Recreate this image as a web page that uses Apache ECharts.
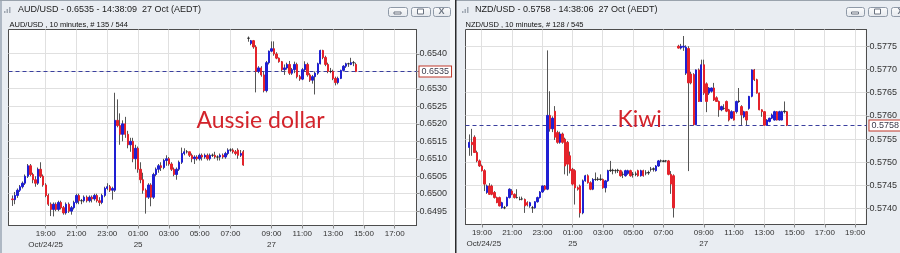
<!DOCTYPE html>
<html><head><meta charset="utf-8">
<script src="https://cdn.jsdelivr.net/npm/echarts@6/dist/echarts.min.js"></script>
<style>html,body{margin:0;padding:0;background:#e9edf2;}#c{width:900px;height:253px;}</style>
</head><body><div id="c"></div>
<script>
// ---------------- DATA ----------------
// trading sessions (10-minute bars), weekend gap removed
const audSessions = [['2025-10-24 16:40','2025-10-25 07:50'],['2025-10-27 07:20','2025-10-27 18:20']];
const nzdSessions = [['2025-10-24 18:00','2025-10-25 07:50'],['2025-10-27 07:20','2025-10-27 19:40']];

// x tick labels
const audTimeTicks = ['24 19:00','24 21:00','24 23:00','25 01:00','25 03:00','25 05:00','25 07:00','27 09:00','27 11:00','27 13:00','27 15:00','27 17:00'];
const nzdTimeTicks = ['24 19:00','24 21:00','24 23:00','25 01:00','25 03:00','25 05:00','25 07:00','27 09:00','27 11:00','27 13:00','27 15:00','27 17:00','27 19:00'];
const dateTicks = {'24 19:00':'Oct/24/25','25 01:00':'25','27 09:00':'27'};

// y tick labels
const audPriceTicks = [0.6540,0.6535,0.6530,0.6525,0.6520,0.6515,0.6510,0.6505,0.6500,0.6495];
const nzdPriceTicks = [0.5775,0.5770,0.5765,0.5760,0.5755,0.5750,0.5745,0.5740];
const audRange = [0.64909, 0.65470];
const nzdRange = [0.57366, 0.57786];
const audLast = 0.6535;
const nzdLast = 0.5758;

// candles: [open, close, low, high]
const audFriStart = '24 16:50';
const audFri = [
[0.64985,0.64983,0.64965,0.64995],[0.64983,0.64995,0.64970,0.65005],[0.64995,0.65010,0.64988,0.65015],[0.65010,0.65020,0.65005,0.65025],
[0.65020,0.65030,0.65015,0.65035],[0.65030,0.65050,0.65025,0.65055],[0.65050,0.65080,0.65045,0.65085],[0.65080,0.65055,0.65050,0.65085],
[0.65055,0.65040,0.65030,0.65060],[0.65040,0.65030,0.65020,0.65050],[0.65030,0.65070,0.65025,0.65075],[0.65070,0.65050,0.65045,0.65090],
[0.65050,0.65025,0.65020,0.65055],[0.65025,0.64995,0.64990,0.65030],[0.64995,0.64970,0.64965,0.65000],[0.64970,0.64955,0.64936,0.64975],
[0.64955,0.64970,0.64935,0.64975],[0.64970,0.64955,0.64950,0.64975],[0.64955,0.64975,0.64950,0.64980],[0.64975,0.64960,0.64955,0.64980],
[0.64960,0.64945,0.64940,0.64965],[0.64945,0.64970,0.64940,0.64975],[0.64970,0.64950,0.64945,0.64975],[0.64950,0.64960,0.64940,0.64965],
[0.64960,0.64975,0.64955,0.64980],[0.64975,0.64995,0.64970,0.65000],[0.64995,0.64980,0.64970,0.65000],[0.64980,0.64980,0.64970,0.64985],
[0.64980,0.64990,0.64975,0.64995],[0.64990,0.64980,0.64975,0.64995],[0.64980,0.64990,0.64975,0.64995],[0.64990,0.64985,0.64975,0.64995],
[0.64985,0.64995,0.64980,0.65000],[0.64995,0.64980,0.64975,0.65000],[0.64980,0.64975,0.64965,0.64990],[0.64975,0.64995,0.64970,0.65000],
[0.64995,0.65015,0.64990,0.65020],[0.65015,0.65020,0.65010,0.65030],[0.65020,0.65010,0.65005,0.65025],[0.65010,0.65015,0.64983,0.65020],
[0.65010,0.65210,0.65005,0.65289],[0.65210,0.65195,0.65190,0.65270],[0.65195,0.65170,0.65140,0.65230],[0.65170,0.65200,0.65150,0.65210],
[0.65200,0.65170,0.65160,0.65220],[0.65170,0.65140,0.65130,0.65180],[0.65140,0.65150,0.65120,0.65160],[0.65150,0.65100,0.65090,0.65160],
[0.65100,0.65130,0.65070,0.65140],[0.65130,0.65070,0.65060,0.65135],[0.65070,0.65040,0.65030,0.65090],[0.65040,0.65010,0.65000,0.65060],
[0.65010,0.64990,0.64943,0.65015],[0.64990,0.65025,0.64985,0.65030],[0.65025,0.64990,0.64964,0.65030],[0.64990,0.65055,0.64985,0.65060],
[0.65055,0.65070,0.65050,0.65075],[0.65070,0.65080,0.65060,0.65085],[0.65080,0.65075,0.65065,0.65090],[0.65075,0.65095,0.65070,0.65100],
[0.65095,0.65100,0.65080,0.65110],[0.65100,0.65085,0.65080,0.65105],[0.65085,0.65070,0.65065,0.65090],[0.65070,0.65055,0.65050,0.65075],
[0.65055,0.65070,0.65040,0.65075],[0.65070,0.65090,0.65065,0.65095],[0.65090,0.65115,0.65085,0.65132],[0.65115,0.65120,0.65110,0.65130],
[0.65120,0.65120,0.65115,0.65125],[0.65120,0.65110,0.65105,0.65120],[0.65110,0.65100,0.65090,0.65115],[0.65100,0.65105,0.65085,0.65110],
[0.65105,0.65100,0.65095,0.65110],[0.65100,0.65110,0.65095,0.65115],[0.65110,0.65105,0.65095,0.65115],[0.65105,0.65110,0.65100,0.65115],
[0.65110,0.65100,0.65095,0.65115],[0.65100,0.65110,0.65095,0.65115],[0.65110,0.65110,0.65105,0.65115],[0.65110,0.65105,0.65100,0.65120],
[0.65105,0.65105,0.65095,0.65110],[0.65105,0.65110,0.65095,0.65115],[0.65110,0.65105,0.65100,0.65115],[0.65105,0.65115,0.65100,0.65120],
[0.65115,0.65125,0.65110,0.65130],[0.65125,0.65125,0.65120,0.65130],[0.65125,0.65120,0.65115,0.65130],[0.65120,0.65115,0.65110,0.65125],
[0.65125,0.65110,0.65100,0.65130],[0.65110,0.65115,0.65105,0.65125],[0.65120,0.65082,0.65080,0.65125]
];
const audMonStart = '27 07:30';
const audMon = [
[0.65445,0.65445,0.65435,0.65450],[0.65430,0.65438,0.65425,0.65440],[0.65438,0.65420,0.65415,0.65440],[0.65420,0.65350,0.65290,0.65425],
[0.65350,0.65360,0.65345,0.65365],[0.65360,0.65340,0.65335,0.65365],[0.65340,0.65295,0.65290,0.65350],[0.65295,0.65375,0.65290,0.65380],
[0.65375,0.65408,0.65370,0.65410],[0.65408,0.65415,0.65405,0.65436],[0.65415,0.65400,0.65395,0.65436],[0.65400,0.65388,0.65385,0.65405],
[0.65388,0.65378,0.65375,0.65390],[0.65378,0.65355,0.65350,0.65380],[0.65355,0.65360,0.65340,0.65370],[0.65360,0.65370,0.65355,0.65375],
[0.65370,0.65345,0.65340,0.65380],[0.65345,0.65355,0.65340,0.65360],[0.65355,0.65370,0.65345,0.65378],[0.65370,0.65335,0.65330,0.65375],
[0.65335,0.65328,0.65323,0.65340],[0.65328,0.65355,0.65325,0.65360],[0.65355,0.65370,0.65350,0.65379],[0.65370,0.65340,0.65335,0.65375],
[0.65340,0.65325,0.65320,0.65345],[0.65325,0.65335,0.65315,0.65340],[0.65335,0.65345,0.65284,0.65350],[0.65345,0.65372,0.65340,0.65375],
[0.65372,0.65410,0.65370,0.65412],[0.65410,0.65390,0.65385,0.65412],[0.65390,0.65370,0.65365,0.65395],[0.65370,0.65350,0.65345,0.65375],
[0.65350,0.65350,0.65345,0.65360],[0.65350,0.65330,0.65325,0.65355],[0.65330,0.65318,0.65310,0.65335],[0.65318,0.65330,0.65313,0.65335],
[0.65330,0.65353,0.65328,0.65355],[0.65353,0.65365,0.65350,0.65368],[0.65365,0.65372,0.65360,0.65375],[0.65372,0.65372,0.65363,0.65375],
[0.65370,0.65375,0.65368,0.65389],[0.65375,0.65375,0.65365,0.65380],[0.65370,0.65350,0.65348,0.65375]
];
const nzdFriStart = '24 18:10';
const nzdFri = [
[0.57532,0.57543,0.57514,0.57560],[0.57543,0.57538,0.57514,0.57572],[0.57554,0.57521,0.57520,0.57558],[0.57521,0.57503,0.57500,0.57525],
[0.57503,0.57492,0.57490,0.57506],[0.57492,0.57482,0.57480,0.57495],[0.57482,0.57453,0.57438,0.57485],[0.57435,0.57449,0.57432,0.57452],
[0.57449,0.57431,0.57430,0.57455],[0.57449,0.57431,0.57429,0.57452],[0.57435,0.57424,0.57422,0.57438],[0.57424,0.57413,0.57412,0.57426],
[0.57424,0.57406,0.57405,0.57426],[0.57402,0.57413,0.57400,0.57415],[0.57402,0.57402,0.57399,0.57406],[0.57406,0.57424,0.57404,0.57426],
[0.57424,0.57442,0.57422,0.57444],[0.57438,0.57431,0.57429,0.57442],[0.57431,0.57424,0.57422,0.57433],[0.57424,0.57424,0.57422,0.57442],
[0.57420,0.57420,0.57418,0.57426],[0.57421,0.57421,0.57418,0.57426],[0.57420,0.57406,0.57391,0.57422],[0.57413,0.57408,0.57405,0.57416],
[0.57406,0.57413,0.57402,0.57415],[0.57402,0.57402,0.57391,0.57406],[0.57402,0.57415,0.57400,0.57416],[0.57415,0.57424,0.57413,0.57426],
[0.57424,0.57436,0.57422,0.57438],[0.57436,0.57449,0.57434,0.57450],[0.57449,0.57442,0.57439,0.57451],[0.57442,0.57601,0.57440,0.57741],
[0.57601,0.57572,0.57566,0.57653],[0.57572,0.57595,0.57565,0.57599],[0.57610,0.57554,0.57548,0.57621],[0.57564,0.57543,0.57540,0.57568],
[0.57543,0.57561,0.57540,0.57566],[0.57561,0.57543,0.57540,0.57564],[0.57550,0.57492,0.57474,0.57553],[0.57543,0.57496,0.57471,0.57546],
[0.57514,0.57482,0.57476,0.57523],[0.57485,0.57453,0.57450,0.57488],[0.57482,0.57445,0.57409,0.57485],[0.57445,0.57442,0.57439,0.57448],
[0.57449,0.57391,0.57381,0.57452],[0.57391,0.57460,0.57388,0.57463],[0.57460,0.57471,0.57458,0.57473],[0.57471,0.57456,0.57454,0.57474],
[0.57456,0.57442,0.57440,0.57459],[0.57442,0.57463,0.57440,0.57466],[0.57463,0.57463,0.57460,0.57478],[0.57463,0.57464,0.57460,0.57468],
[0.57464,0.57463,0.57460,0.57474],[0.57463,0.57445,0.57443,0.57465],[0.57445,0.57460,0.57435,0.57462],[0.57460,0.57482,0.57458,0.57484],
[0.57482,0.57483,0.57479,0.57503],[0.57483,0.57482,0.57474,0.57486],[0.57482,0.57482,0.57476,0.57485],[0.57482,0.57483,0.57477,0.57486],
[0.57482,0.57471,0.57469,0.57484],[0.57474,0.57474,0.57466,0.57480],[0.57471,0.57482,0.57469,0.57484],[0.57476,0.57482,0.57473,0.57484],
[0.57482,0.57471,0.57469,0.57484],[0.57474,0.57474,0.57467,0.57479],[0.57474,0.57475,0.57470,0.57480],[0.57482,0.57471,0.57469,0.57484],
[0.57471,0.57482,0.57469,0.57484],[0.57482,0.57471,0.57469,0.57484],[0.57477,0.57477,0.57472,0.57483],[0.57477,0.57478,0.57473,0.57482],
[0.57485,0.57485,0.57480,0.57490],[0.57485,0.57486,0.57480,0.57489],[0.57482,0.57492,0.57480,0.57494],[0.57492,0.57503,0.57490,0.57505],
[0.57503,0.57503,0.57500,0.57506],[0.57503,0.57502,0.57500,0.57505],[0.57503,0.57503,0.57500,0.57505],[0.57503,0.57474,0.57472,0.57505],
[0.57474,0.57453,0.57432,0.57481],[0.57471,0.57402,0.57381,0.57474]
];
const nzdMonStart = '27 07:20';
const nzdMon = [
[0.57750,0.57746,0.57745,0.57753],[0.57746,0.57750,0.57743,0.57755],[0.57748,0.57750,0.57740,0.57772],[0.57692,0.57748,0.57688,0.57752],
[0.57745,0.57671,0.57481,0.57750],[0.57690,0.57671,0.57668,0.57695],[0.57689,0.57581,0.57579,0.57692],[0.57581,0.57699,0.57580,0.57700],
[0.57699,0.57631,0.57630,0.57702],[0.57631,0.57710,0.57630,0.57721],[0.57710,0.57649,0.57645,0.57721],[0.57669,0.57631,0.57608,0.57672],
[0.57649,0.57660,0.57645,0.57662],[0.57653,0.57660,0.57650,0.57661],[0.57660,0.57634,0.57632,0.57671],[0.57639,0.57631,0.57630,0.57642],
[0.57631,0.57613,0.57598,0.57633],[0.57613,0.57620,0.57610,0.57622],[0.57616,0.57616,0.57613,0.57625],[0.57631,0.57610,0.57608,0.57633],
[0.57613,0.57591,0.57588,0.57615],[0.57595,0.57609,0.57593,0.57612],[0.57609,0.57591,0.57590,0.57610],[0.57609,0.57631,0.57605,0.57633],
[0.57631,0.57632,0.57628,0.57660],[0.57620,0.57602,0.57580,0.57623],[0.57598,0.57609,0.57595,0.57611],[0.57609,0.57591,0.57580,0.57610],
[0.57616,0.57642,0.57613,0.57643],[0.57642,0.57699,0.57640,0.57700],[0.57699,0.57678,0.57675,0.57701],[0.57678,0.57649,0.57648,0.57680],
[0.57649,0.57613,0.57612,0.57650],[0.57613,0.57609,0.57598,0.57614],[0.57609,0.57580,0.57579,0.57610],[0.57580,0.57591,0.57579,0.57593],
[0.57588,0.57595,0.57586,0.57596],[0.57595,0.57602,0.57593,0.57605],[0.57591,0.57609,0.57590,0.57611],[0.57609,0.57591,0.57590,0.57610],
[0.57591,0.57609,0.57590,0.57611],[0.57591,0.57609,0.57590,0.57611],[0.57609,0.57610,0.57605,0.57631],[0.57609,0.57580,0.57578,0.57610]
];

// ---------------- BUILD ----------------
const FONT = 'Liberation Sans';
const UP = '#1f1fd2', DOWN = '#e4232b', WICK = '#555555', DOJI = '#2a2a2a';
const GRIDLINE = '#e0e0e0', FRAME = '#4d4d4d';

function buildCategories(sessions){
  const out = [];
  for (const [a,b] of sessions){
    let t = Date.parse(a.replace(' ','T')+':00Z');
    const end = Date.parse(b.replace(' ','T')+':00Z');
    for (; t <= end; t += 600000){
      const d = new Date(t);
      out.push(String(d.getUTCDate()).padStart(2,'0')+' '+String(d.getUTCHours()).padStart(2,'0')+':'+String(d.getUTCMinutes()).padStart(2,'0'));
    }
  }
  return out;
}
function place(cats, segments){
  const out = cats.map(()=>null);
  for (const [key, rows] of segments){
    const s = cats.indexOf(key);
    rows.forEach((r,k)=>{ out[s+k] = r; });
  }
  return out;
}
const EMPTY = ['-','-','-','-'];
const crisp = v => Math.round(v - 0.5) + 0.5;

function panel(gi, cats, placed, timeTicks, priceTicks, range, last, lastLabel, dateOutside){
  const tickSet = new Set(timeTicks);
  const xAxis = {
    type:'category', gridIndex:gi, data:cats, boundaryGap:true,
    axisLine:{show:true, lineStyle:{color:FRAME, width:1}},
    axisTick:{show:true, alignWithLabel:true, interval:(i,v)=>tickSet.has(v), length:3, lineStyle:{color:'#888'}},
    axisLabel:{show:true, interval:(i,v)=>tickSet.has(v), margin:3, hideOverlap:false,
      formatter:(v)=>{
        const t = '{t|'+v.slice(3)+'}';
        const d = dateTicks[v];
        if (!d || (dateOutside && v===timeTicks[0])) return t;
        return t+'\n{d|'+d+'}';
      },
      rich:{
        t:{fontFamily:FONT, fontSize:8, color:'#333', lineHeight:11},
        d:{fontFamily:FONT, fontSize:8, color:'#333', lineHeight:11}
      }},
    splitLine:{show:false}
  };
  const yAxis = {
    type:'value', gridIndex:gi, position:'right', min:range[0], max:range[1], scale:true,
    axisLine:{show:true, lineStyle:{color:FRAME, width:1}},
    axisTick:{show:true, length:3, customValues:priceTicks, lineStyle:{color:'#888'}},
    axisLabel:{show:true, customValues:priceTicks, margin:3, fontFamily:FONT, fontSize:9, color:'#333',
      formatter:(v)=>Number(v).toFixed(4)},
    splitLine:{show:false}
  };
  const wickData = placed.map(r => r ? r : EMPTY);
  const bodyData = placed.map(r => {
    if (!r) return EMPTY;
    const lo = Math.min(r[0],r[1]), hi = Math.max(r[0],r[1]);
    const item = {value:[r[0], r[1], lo, hi]};
    if (Math.abs(r[0]-r[1]) < 0.000012) item.itemStyle = {color:DOJI, color0:DOJI, borderColor:DOJI, borderColor0:DOJI};
    return item;
  });
  const series = [
    // horizontal grid lines at price ticks
    {type:'custom', xAxisIndex:gi, yAxisIndex:gi, silent:true, z:1, clip:false,
      data:priceTicks.map(v=>[0, v]), encode:{x:0, y:1},
      renderItem:(params, api)=>{
        const cs = params.coordSys; const y = crisp(api.coord([0, api.value(1)])[1]);
        return {type:'line', shape:{x1:cs.x, y1:y, x2:cs.x+cs.width, y2:y}, style:{stroke:GRIDLINE, lineWidth:1}};
      }},
    // vertical grid lines at time ticks
    {type:'custom', xAxisIndex:gi, yAxisIndex:gi, silent:true, z:1, clip:false,
      data:timeTicks.map(t=>[cats.indexOf(t), range[0]]), encode:{x:0, y:1},
      renderItem:(params, api)=>{
        const cs = params.coordSys; const x = crisp(api.coord([api.value(0), api.value(1)])[0]);
        return {type:'line', shape:{x1:x, y1:cs.y, x2:x, y2:cs.y+cs.height}, style:{stroke:GRIDLINE, lineWidth:1}};
      }},
    // current price: dashed line + boxed label
    {type:'custom', xAxisIndex:gi, yAxisIndex:gi, silent:true, z:2, clip:false,
      data:[[0, last]], encode:{x:0, y:1},
      renderItem:(params, api)=>{
        const cs = params.coordSys; const y = crisp(api.coord([0, api.value(1)])[1]);
        return {type:'group', children:[
          {type:'line', shape:{x1:cs.x, y1:y, x2:cs.x+cs.width, y2:y}, style:{stroke:'#3a3f9e', lineWidth:1, lineDash:[4,3]}},
          {type:'text', x:cs.x+cs.width+3, y:y, style:{text:lastLabel, font:'9px '+FONT, fill:'#3a3a4a',
            verticalAlign:'middle', backgroundColor:'#fff', borderColor:'#c0392b', borderWidth:1, padding:[1,2,0,2]}}
        ]};
      }},
    {type:'candlestick', xAxisIndex:gi, yAxisIndex:gi, data:wickData, barWidth:0.5, silent:true, z:3,
      itemStyle:{color:WICK, color0:WICK, borderColor:WICK, borderColor0:WICK, borderWidth:1}},
    {type:'candlestick', xAxisIndex:gi, yAxisIndex:gi, data:bodyData, barWidth:1.9, silent:true, z:4,
      itemStyle:{color:UP, color0:DOWN, borderColor:UP, borderColor0:DOWN, borderWidth:1}}
  ];
  return {xAxis, yAxis, series};
}

const audCats = buildCategories(audSessions);
const nzdCats = buildCategories(nzdSessions);
const A = panel(0, audCats, place(audCats, [[audFriStart,audFri],[audMonStart,audMon]]), audTimeTicks, audPriceTicks, audRange, audLast, audLast.toFixed(4), false);
const N = panel(1, nzdCats, place(nzdCats, [[nzdFriStart,nzdFri],[nzdMonStart,nzdMon]]), nzdTimeTicks, nzdPriceTicks, nzdRange, nzdLast, nzdLast.toFixed(4), true);

function button(x, y, w, h, icon){
  const els = [{type:'rect', shape:{x:x+0.5, y:y+0.5, width:w, height:h, r:2}, silent:true,
    style:{fill:new echarts.graphic.LinearGradient(0,0,0,1,[{offset:0,color:'#fdfdfd'},{offset:1,color:'#e3e7ec'}]), stroke:'#8e99a7', lineWidth:1}}];
  const cx = x + w/2, cy = y + h/2;
  if (icon==='min') els.push({type:'rect', shape:{x:cx-3.5, y:cy+0.5, width:7, height:2}, style:{fill:'#fff', stroke:'#6a7380', lineWidth:1}, silent:true});
  if (icon==='max') els.push({type:'rect', shape:{x:cx-3, y:cy-2.5, width:6, height:5}, style:{fill:'#fff', stroke:'#6a7380', lineWidth:1}, silent:true});
  if (icon==='close') els.push({type:'text', style:{text:'X', x:cx, y:cy+0.5, align:'center', verticalAlign:'middle', font:'bold 9px '+FONT, fill:'#6a7380'}, silent:true});
  return els;
}
function icon(x, y){
  return [0,1,2].map(k=>({type:'rect', shape:{x:x+k*2.5, y:y+6-2*k, width:1.5, height:2+2*k}, style:{fill:'#a0a8b2'}, silent:true}));
}

const graphics = [].concat(
  [{type:'rect', shape:{x:0, y:0, width:2, height:253}, style:{fill:'#aeb8c4'}, silent:true},
   {type:'rect', shape:{x:0, y:0, width:900, height:1}, style:{fill:'#9aa3ad'}, silent:true},
   {type:'rect', shape:{x:450, y:0, width:5, height:253}, style:{fill:'#f4f6f8'}, silent:true},
   {type:'rect', shape:{x:455, y:0, width:1.5, height:253}, style:{fill:'#2b2b2b'}, silent:true}],
  icon(4, 5), icon(462, 5),
  [{type:'text', silent:true, style:{text:'AUD/USD - 0.6535 - 14:38:09  27 Oct (AEDT)', x:18, y:10, verticalAlign:'middle', font:'9px '+FONT, fill:'#1b1b1b'}},
   {type:'text', silent:true, style:{text:'AUD/USD , 10 minutes, # 135 / 544', x:9.5, y:24.5, verticalAlign:'middle', font:'7.5px '+FONT, fill:'#111'}},
   {type:'text', silent:true, style:{text:'NZD/USD - 0.5758 - 14:38:06  27 Oct (AEDT)', x:475, y:10, verticalAlign:'middle', font:'9px '+FONT, fill:'#1b1b1b'}},
   {type:'text', silent:true, style:{text:'NZD/USD , 10 minutes, # 128 / 545', x:465.5, y:24.5, verticalAlign:'middle', font:'7.5px '+FONT, fill:'#111'}},
   // NZD first date label sits clamped to the plot's left edge
   {type:'text', silent:true, style:{text:dateTicks[nzdTimeTicks[0]], x:466.5, y:244, verticalAlign:'middle', font:'8px '+FONT, fill:'#333'}}],
  button(388, 7, 19, 9, 'min'), button(411, 7, 19, 9, 'max'), button(433, 7, 17, 9, 'close'),
  button(846, 7, 18, 9, 'min'), button(868, 7, 19, 9, 'max'), button(891, 7, 19, 9, 'close'),
  [{type:'text', silent:true, z:10, style:{text:'Aussie dollar', x:196.5, y:121, verticalAlign:'middle', font:'23px Lato', fill:'#d3232b'}},
   {type:'text', silent:true, z:10, style:{text:'Kiwi', x:617.5, y:119.5, verticalAlign:'middle', font:'23px Lato', fill:'#d3232b'}}]
);

const option = {
  backgroundColor:'#e9edf2',
  animation:false,
  textStyle:{fontFamily:FONT},
  grid:[
    {left:8.5, top:29.5, width:408, height:196, show:true, backgroundColor:'#fff', borderColor:FRAME, borderWidth:1},
    {left:465.5, top:29.5, width:409, height:195, show:true, backgroundColor:'#fff', borderColor:FRAME, borderWidth:1}
  ],
  xAxis:[A.xAxis, N.xAxis],
  yAxis:[A.yAxis, N.yAxis],
  series:A.series.concat(N.series),
  graphic:graphics
};
const chart = echarts.init(document.getElementById('c'), null, {renderer:'canvas'});
chart.setOption(option);
</script>
</body></html>
